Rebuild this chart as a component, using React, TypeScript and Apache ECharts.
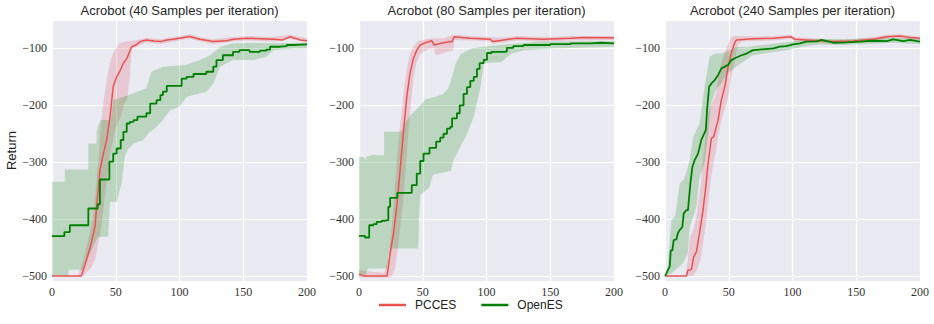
import React, { useEffect, useRef } from "react";
import * as echarts from "echarts";

type P = [number, number];

const panelTitles = [
  "Acrobot (40 Samples per iteration)",
  "Acrobot (80 Samples per iteration)",
  "Acrobot (240 Samples per iteration)",
];
const seriesNames = ["PCCES", "OpenES"];
const xTicks = [0, 50, 100, 150, 200];
const yTicks = [-500, -400, -300, -200, -100];

// ---------- Panel 1 (40 samples) ----------
const p1PccesMean: P[] = [[0,-500],[23,-500],[26,-480],[30,-449],[33.7,-414],[35,-379],[37.6,-314],[40.3,-285],[42.9,-261],[45.5,-220],[48,-167],[50.7,-150],[53,-141],[56,-126],[58.6,-118],[62.5,-97],[66,-94],[69,-88],[74,-85],[80,-87],[85,-88],[90,-85],[95,-84],[100,-82],[108,-79],[116,-84],[126.5,-88],[137,-86.5],[142,-84],[153,-82],[163,-83],[173.6,-84],[181,-85],[186.7,-79.5],[194.5,-85],[200,-86.5]];
const p1PccesHi: P[] = [[0,-500],[20,-500],[25,-470],[28,-440],[30,-420],[33,-380],[35,-330],[37,-280],[38,-240],[40,-200],[42,-170],[44,-140],[46,-120],[48,-108],[51,-97],[53,-90],[58,-88],[65,-86],[74,-81],[85,-84],[100,-78],[108,-75],[116,-80],[126.5,-84],[142,-80],[153,-78],[173.6,-80],[186.7,-76],[200,-82]];
const p1PccesLo: P[] = [[0,-500],[25,-500],[28,-492],[31,-485],[34,-470],[36,-445],[38,-425],[40,-390],[42,-350],[44,-310],[46,-280],[48,-260],[50,-240],[54,-220],[57,-195],[59,-190],[61,-150],[62.5,-100],[66,-97],[74,-89],[85,-92],[100,-86],[108,-83],[116,-88],[126.5,-92],[142,-88],[153,-86],[173.6,-88],[186.7,-83],[200,-90]];
const p1OpenMean: P[] = [[0,-430],[9.7,-423],[14,-411],[28.5,-381.5],[35.8,-374],[37.6,-330.5],[45,-299],[48,-285],[50.7,-276],[53.9,-261],[56,-246.6],[58.6,-232],[61,-229],[64,-226],[67,-220],[74,-214],[77,-197],[82,-191],[85,-182],[87,-176],[90,-166],[101.7,-153],[105.6,-150],[111,-145],[121,-141],[126.5,-132],[129,-120.5],[134,-112],[142,-106],[147,-103],[155,-106],[163,-104],[168,-102],[171,-97],[179,-96],[184,-94],[189,-93],[200,-93]];
const p1OpenHi: P[] = [[0,-334.6],[10,-334.6],[10,-313],[28.5,-313],[28.5,-267],[35,-267],[35,-244],[38,-226],[46,-226],[48,-191],[56,-185],[64,-179],[74,-170],[78,-141],[87,-132],[105,-129],[116,-120.5],[124,-112],[132,-97],[142,-91],[157,-90],[168,-91],[200,-90]];
const p1OpenLo: P[] = [[0,-500],[13,-500],[13,-489],[24.6,-489],[28,-470],[32,-450],[36,-431],[44,-431],[45.5,-370],[50.7,-370],[54.6,-337.5],[57,-290.6],[60,-276],[64,-267],[71.6,-261],[75.5,-249.6],[82,-238],[87,-226],[92.5,-208.5],[100,-202.6],[105.6,-185],[121,-176],[126.5,-161.6],[131.8,-132],[142,-120.5],[158,-120.5],[168,-114.7],[173.6,-103],[189,-100],[200,-100]];

// ---------- Panel 2 (80 samples) ----------
const p2PccesMean: P[] = [[0,-497],[3.4,-500],[22,-500],[24.4,-461],[27,-425.5],[29.6,-378.6],[32,-320],[35,-243.7],[37.5,-185],[40,-144],[42.7,-117.6],[45.3,-103],[48,-94],[52,-90],[57,-86.5],[59,-94],[66,-90],[73,-88],[74.7,-79.5],[87,-82],[103,-84],[105,-88],[113.5,-85],[124,-82],[145,-84],[166,-82],[176,-80.6],[200,-81]];
const p2PccesHi: P[] = [[0,-490],[20,-495],[23,-470],[25,-430],[28,-350],[30,-290],[32,-240],[34,-200],[36,-160],[38,-130],[40,-110],[43,-95],[46,-88],[50,-85],[57,-82],[66,-82],[74.7,-76],[87,-78],[103,-80],[113.5,-81],[124,-78],[145,-80],[166,-78],[200,-78]];
const p2PccesLo: P[] = [[0,-503],[25,-503],[28,-490],[30,-460],[32,-420],[35,-360],[37,-300],[39,-240],[41,-190],[43,-150],[45,-125],[48,-110],[55,-100],[59,-100],[60,-112],[74,-103],[75,-85],[87,-86],[103,-88],[105,-92],[113.5,-89],[124,-86],[145,-88],[166,-86],[200,-85]];
const p2OpenMean: P[] = [[0,-429.6],[4.7,-432.5],[8,-411],[11.3,-409],[13.9,-405],[17.8,-403],[20.4,-402],[23,-378.6],[24.4,-362.8],[30,-354],[41.4,-340.5],[45.3,-320],[48,-298],[50.6,-285],[55.3,-275],[60.5,-264],[63.7,-257],[66.3,-250],[69,-241],[71.5,-238],[73,-223],[76.8,-214],[79,-200],[82,-180],[84.7,-168],[87.3,-157],[90,-150],[92.5,-136],[94.6,-126],[97.8,-120],[100.4,-108],[104,-106],[114,-105],[116,-99],[121,-96],[129,-94],[150,-92.4],[166,-91],[181.6,-90],[190,-91],[200,-91]];
const p2OpenHi: P[] = [[0,-291],[4,-291],[4.7,-297],[6,-290],[11,-287],[15,-288],[19.7,-288],[19.7,-246.6],[33,-246.6],[36,-233],[40,-218],[46,-205],[52,-190],[60,-185],[66,-180],[70,-170],[73,-150],[76,-125],[80,-110],[88,-100],[100,-96],[120,-92],[140,-88],[200,-87]];
const p2OpenLo: P[] = [[0,-500],[5,-500],[7,-487],[21.8,-487],[24,-452],[46.5,-452],[47,-400],[48,-358],[55,-345],[58,-322],[72,-315],[74,-297],[84.8,-250],[90,-220],[95.3,-168],[97.9,-126],[112,-124],[116,-115],[120,-109],[130,-103],[150,-100],[200,-97]];

// ---------- Panel 3 (240 samples) ----------
const p3PccesMean: P[] = [[0,-500],[16.8,-500],[18,-490],[20.7,-489],[22.5,-466.6],[24.6,-457.8],[27,-425.5],[29.8,-385],[32,-343],[33.8,-302],[36.4,-258],[38.2,-255],[41.6,-226],[44.2,-191],[46.9,-167.4],[49.5,-132],[52,-108],[54.7,-90],[56,-85],[69,-83],[85,-82],[99,-79.5],[101.8,-84],[111,-85],[121.5,-86.5],[132,-88],[147.6,-87],[163,-84],[174,-79.5],[184,-78],[192,-80.6],[200,-82]];
const p3PccesHi: P[] = [[0,-500],[16,-500],[18,-470],[19.4,-432],[22,-420],[25,-390],[28,-340],[30,-290],[32,-250],[34,-215],[36,-200],[38,-190],[40,-180],[42,-150],[45,-120],[48,-100],[50,-90],[52,-80],[55,-78],[69,-79],[85,-78],[99,-76],[101.8,-80],[121.5,-83],[132,-85],[147.6,-84],[163,-80],[174,-76],[184,-75],[200,-79]];
const p3PccesLo: P[] = [[0,-500],[22,-500],[25,-490],[28,-470],[30,-440],[32,-410],[34,-370],[36,-330],[38,-300],[40,-280],[42,-250],[45,-220],[48,-200],[50,-180],[52,-150],[55,-120],[57,-95],[60,-88],[69,-87],[85,-86],[99,-83],[101.8,-88],[121.5,-90],[132,-92],[147.6,-90],[163,-88],[174,-83],[184,-82],[200,-85]];
const p3OpenMean: P[] = [[0,-500],[1,-496],[2.4,-489],[3.7,-484],[4.5,-455],[5.8,-455],[6.8,-437],[8.9,-436],[10,-425.5],[11.5,-419.6],[13.6,-414],[14.7,-390],[16.8,-384.5],[18,-384.5],[19.9,-337.5],[21.5,-308],[23.3,-296.5],[25.9,-285],[28.5,-261],[32,-243.7],[33,-208.5],[34.6,-167.4],[36.4,-161.6],[39,-155.7],[41.6,-147],[44.2,-135],[46.9,-132],[49.5,-129],[52,-120.5],[56,-116],[60,-112],[64,-109],[69,-103],[74,-102],[85,-100],[90,-97],[95,-96],[100.5,-93],[105.8,-91],[111,-88],[119,-87.7],[122.8,-85],[132,-90],[142.4,-89.4],[153,-88],[163,-86.5],[174,-87],[179,-84],[187,-87],[192,-85],[200,-88]];
const p3OpenHi: P[] = [[0,-500],[2,-485],[3,-460],[5,-402],[8,-395],[11.5,-338],[15,-330],[19.4,-297],[22,-256],[27.2,-232],[31,-168],[35,-115],[39,-109],[44.2,-109],[50.8,-103],[56,-97],[65,-97],[80,-93],[100,-88],[120,-83],[140,-84],[160,-82],[180,-81],[200,-83]];
const p3OpenLo: P[] = [[0,-500],[5,-496],[14,-478],[17.8,-461],[19.4,-414],[24.7,-379],[27.2,-326],[31,-302.5],[33.6,-255.6],[36.2,-197],[39.8,-173.4],[44,-161.6],[49,-144],[55.8,-132.4],[69,-112],[95,-103],[108,-97],[121,-93],[140,-94],[160,-92],[180,-90],[200,-92]];

const panels = [
  { pcces: [p1PccesMean, p1PccesLo, p1PccesHi], open: [p1OpenMean, p1OpenLo, p1OpenHi], openStep: true },
  { pcces: [p2PccesMean, p2PccesLo, p2PccesHi], open: [p2OpenMean, p2OpenLo, p2OpenHi], openStep: true },
  { pcces: [p3PccesMean, p3PccesLo, p3PccesHi], open: [p3OpenMean, p3OpenLo, p3OpenHi], openStep: false },
];

const RED = "#E8534F";
const GREEN = "#008000";
const RED_FILL = "rgba(222,80,95,0.22)";
const GREEN_FILL = "rgba(0,128,0,0.2)";
const SERIF = "'Liberation Serif', 'DejaVu Serif', serif";
const SANS = "'Liberation Sans', Arial, sans-serif";

const gridLefts = [52, 359, 665];
const gridWidth = 255;
const gridTop = 20;
const gridHeight = 261;

function band(lo: P[], hi: P[], fill: string, idx: number) {
  const pts: P[] = [...hi, ...lo.slice().reverse()];
  return {
    type: "custom",
    xAxisIndex: idx,
    yAxisIndex: idx,
    silent: true,
    z: 1,
    data: pts,
    renderItem: (params: any, api: any) => {
      if (params.dataIndex !== 0) return null;
      return {
        type: "polygon",
        shape: { points: pts.map((p) => api.coord(p)) },
        style: { fill },
      };
    },
  };
}

export default function App() {
  const ref = useRef<HTMLDivElement>(null);
  useEffect(() => {
    document.body.style.margin = "0";
    const chart = echarts.init(ref.current!, null, { renderer: "svg" });
    const grids = gridLefts.map((l) => ({
      left: l,
      top: gridTop,
      width: gridWidth,
      height: gridHeight,
      show: true,
      backgroundColor: "#EAEAF2",
      borderWidth: 0,
    }));
    const fmtY = (v: number) => (yTicks.includes(v) ? String(v).replace("-", "\u2212") : "");
    const xAxes = gridLefts.map((_, i) => ({
      type: "value",
      gridIndex: i,
      min: xTicks[0],
      max: xTicks[xTicks.length - 1],
      interval: 50,
      axisLine: { show: false },
      axisTick: { show: false },
      axisLabel: { fontFamily: SERIF, fontSize: 12, color: "#333", margin: 5 },
      splitLine: { lineStyle: { color: "#ffffff", width: 1.2 } },
    }));
    const yAxes = gridLefts.map((_, i) => ({
      type: "value",
      gridIndex: i,
      min: -509,
      max: -50,
      splitNumber: 5,
      axisLine: { show: false },
      axisTick: { show: false },
      axisLabel: { fontFamily: SERIF, fontSize: 12, color: "#333", margin: 5, formatter: fmtY, showMinLabel: false, showMaxLabel: false },
      splitLine: { lineStyle: { color: "#ffffff", width: 1.2 } },
      name: i === 0 ? "Return" : "",
      nameLocation: "middle",
      nameGap: 33,
      nameTextStyle: { fontFamily: SANS, fontSize: 13, color: "#222" },
    }));
    const series: any[] = [];
    panels.forEach((p, i) => {
      series.push(band(p.pcces[1], p.pcces[2], RED_FILL, i));
      series.push(band(p.open[1], p.open[2], GREEN_FILL, i));
    });
    panels.forEach((p, i) => {
      series.push({
        type: "line",
        name: seriesNames[0],
        xAxisIndex: i,
        yAxisIndex: i,
        data: p.pcces[0],
        showSymbol: false,
        z: 3,
        lineStyle: { color: RED, width: 1.5 },
        itemStyle: { color: RED },
      });
      series.push({
        type: "line",
        name: seriesNames[1],
        xAxisIndex: i,
        yAxisIndex: i,
        data: p.open[0],
        step: p.openStep ? "end" : false,
        showSymbol: false,
        z: 4,
        lineStyle: { color: GREEN, width: 1.8 },
        itemStyle: { color: GREEN },
      });
    });
    chart.setOption({
      animation: false,
      title: panelTitles.map((t, i) => ({
        text: t,
        left: gridLefts[i] + gridWidth / 2,
        top: 4,
        padding: 0,
        textAlign: "center",
        textStyle: { fontFamily: SANS, fontSize: 13, fontWeight: "normal", color: "#262626" },
      })),
      grid: grids,
      xAxis: xAxes,
      yAxis: yAxes,
      legend: {
        data: seriesNames.map((n) => ({ name: n, icon: "rect" })),
        left: 379,
        top: 299,
        padding: 0,
        itemWidth: 27,
        itemHeight: 2.5,
        itemGap: 25,
        textStyle: { fontFamily: SANS, fontSize: 12, color: "#222", padding: [0, 0, 0, 4] },
      },
      series,
    });
    return () => chart.dispose();
  }, []);
  return <div ref={ref} style={{ width: 934, height: 324 }} />;
}
